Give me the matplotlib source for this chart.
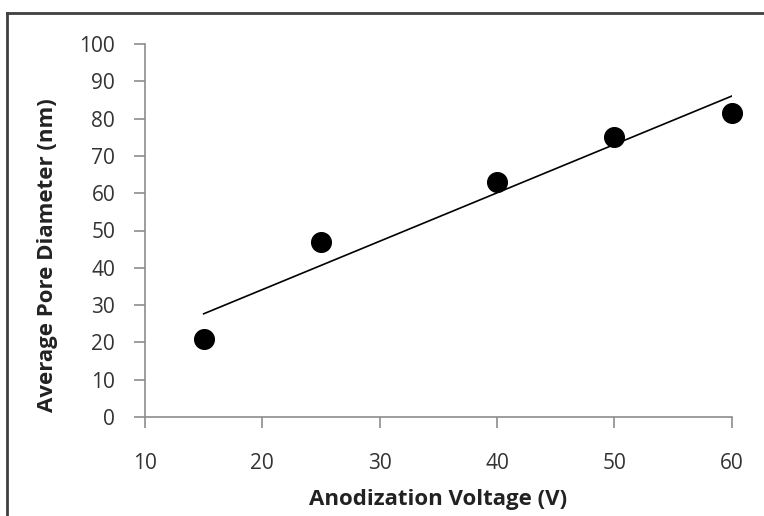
import numpy as np
import matplotlib
matplotlib.use("Agg")
import matplotlib.pyplot as plt
from matplotlib.lines import Line2D

# data
voltage = [15, 25, 40, 50, 60]
pore_diam = [21, 47, 63, 75, 81.5]
x_ticks = [10, 20, 30, 40, 50, 60]
y_ticks = [0, 10, 20, 30, 40, 50, 60, 70, 80, 90, 100]

plt.rcParams['font.family'] = ['Open Sans', 'DejaVu Sans']

fig = plt.figure(figsize=(7.64, 5.16), dpi=100)
ax = fig.add_axes([145/764, 1 - 417/516, (731.7 - 145)/764, (417 - 44)/516])

# linear trend line (excel style)
slope, icpt = np.polyfit(voltage, pore_diam, 1)
xs = np.array([min(voltage), max(voltage)])
ax.plot(xs, slope*xs + icpt, color='black', lw=1.2, zorder=2)
ax.scatter(voltage, pore_diam, s=200, color='black', zorder=3, clip_on=False)

ax.set_xlim(10, 60)
ax.set_ylim(0, 100)
ax.set_xticks(x_ticks)
ax.set_yticks(y_ticks)

for s in ['top', 'right']:
    ax.spines[s].set_visible(False)
for s in ['left', 'bottom']:
    ax.spines[s].set_color('#8c8c8c')
    ax.spines[s].set_linewidth(1.2)
ax.tick_params(axis='both', direction='out', length=8, width=1.2, color='#8c8c8c',
               labelsize=15, labelcolor='#333333')
ax.tick_params(axis='x', pad=18)
ax.tick_params(axis='y', pad=13.5)

ax.set_xlabel('Anodization Voltage (V)', fontsize=16, fontweight='bold', color='#222222', va='center')
ax.set_ylabel('Average Pore Diameter (nm)', fontsize=16, fontweight='bold', color='#222222', va='center')
ax.xaxis.set_label_coords(0.4994, (417 - 500) / 373)
ax.yaxis.set_label_coords((48 - 145) / 586.7, 0.433)

# chart frame (cropped on right/bottom)
fig.add_artist(Line2D([7/764, 1], [1 - 13/516, 1 - 13/516], transform=fig.transFigure, color='#404040', lw=2))
fig.add_artist(Line2D([7/764, 7/764], [0, 1 - 13/516], transform=fig.transFigure, color='#404040', lw=2))

fig.savefig('out.png', dpi=100)
